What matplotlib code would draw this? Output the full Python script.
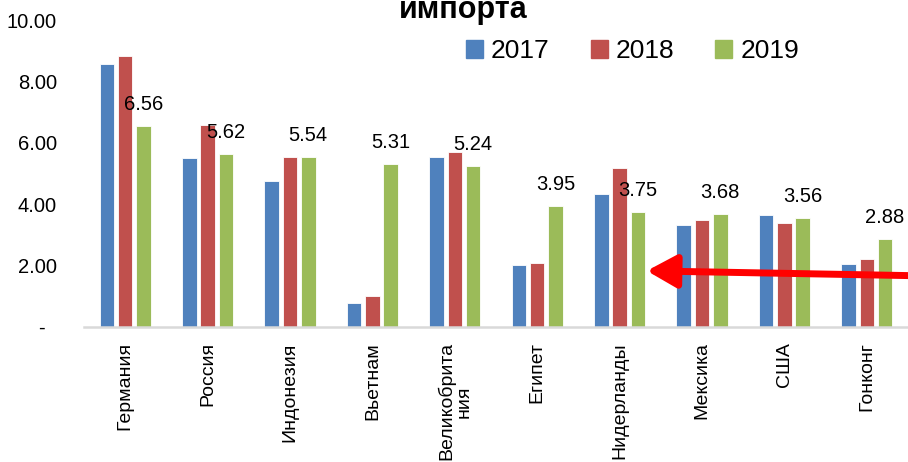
import numpy as np
import matplotlib
matplotlib.use("Agg")
from matplotlib import pyplot as plt
from matplotlib.patches import Patch

countries = ['Германия', 'Россия', 'Индонезия', 'Вьетнам', 'Великобрита\nния',
             'Египет', 'Нидерланды', 'Мексика', 'США', 'Гонконг']
years = ['2017', '2018', '2019']
v2017 = [8.57, 5.50, 4.76, 0.78, 5.54, 2.02, 4.33, 3.32, 3.65, 2.05]
v2018 = [8.83, 6.58, 5.54, 1.01, 5.70, 2.08, 5.18, 3.48, 3.39, 2.21]
v2019 = [6.56, 5.62, 5.54, 5.31, 5.24, 3.95, 3.75, 3.68, 3.56, 2.88]
yticks = [0, 2, 4, 6, 8, 10]
ytick_labels = ['-  ', '2.00', '4.00', '6.00', '8.00', '10.00']
colors = ['#4f81bd', '#c0504d', '#9bbb59']

plt.rcParams['font.family'] = ['Liberation Sans', 'DejaVu Sans']

fig = plt.figure(figsize=(9.08, 4.62), dpi=100)
ax = fig.add_axes([84 / 908, 135 / 462, 824 / 908, 307 / 462])

x = np.arange(len(countries))
w = 0.175
step = 0.222
for i, (vals, c) in enumerate(zip([v2017, v2018, v2019], colors)):
    ax.bar(x + (i - 1) * step, vals, width=w, color=c, edgecolor='white', linewidth=0.6)

# labels only on 2019
for xi, v in zip(x, v2019):
    ax.annotate(f'{v:.2f}', (xi + step, v), xytext=(0, 11.5), textcoords='offset points',
                ha='center', va='baseline', fontsize=14.5)

ax.set_xlim(-0.5, 9.5)
ax.set_ylim(0, 10)
ax.set_yticks(yticks)
ax.set_yticklabels(ytick_labels, fontsize=14.5)
ax.set_xticks(x)
ax.set_xticklabels(countries, rotation=90, fontsize=14, va='top', ha='center',
                   linespacing=1.0)
ax.tick_params(axis='y', length=0, pad=19.5)
ax.tick_params(axis='x', length=0, pad=11)
for s in ['top', 'right', 'left']:
    ax.spines[s].set_visible(False)
ax.spines['bottom'].set_color('#d9d9d9')
ax.spines['bottom'].set_linewidth(1.8)

# red arrow pointing at Нидерланды
ax.annotate('', xy=(6.33, 1.83), xytext=(9.8, 1.66),
            arrowprops=dict(arrowstyle='-|>,head_length=0.9,head_width=0.5',
                            color='red', lw=5, mutation_scale=20, shrinkA=0, shrinkB=0),
            annotation_clip=False)

fig.text(463 / 908, 1 - 18 / 462, 'импорта', ha='center', va='baseline',
         fontsize=22, fontweight='bold')

handles = [Patch(color=c) for c in colors]
fig.legend(handles, years, loc='center left', bbox_to_anchor=(466 / 908, 1 - 51 / 462),
           ncol=3, frameon=False, fontsize=19,
           handlelength=0.65, handleheight=0.65, handletextpad=0.3,
           columnspacing=1.55, borderpad=0, borderaxespad=0)

fig.savefig('out.png', dpi=100)
